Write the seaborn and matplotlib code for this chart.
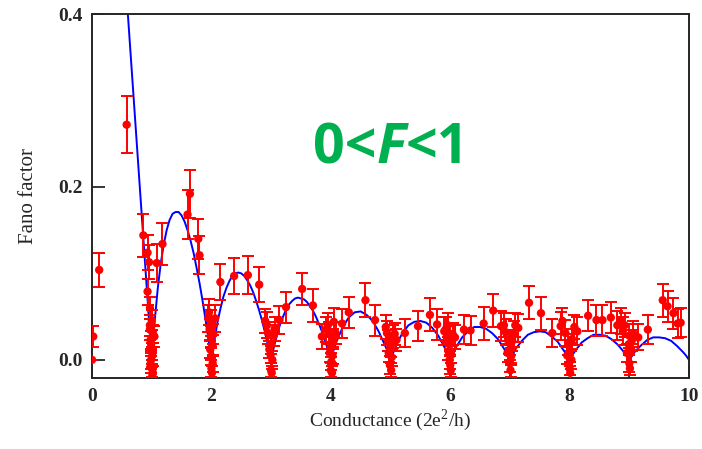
import matplotlib
matplotlib.use("Agg")
import matplotlib.pyplot as plt
import seaborn as sns
from matplotlib.offsetbox import TextArea, HPacker, AnnotationBbox

# measured Fano factor (conductance in 2e^2/h, F, error)
cond = [0.00, 0.02, 0.12, 0.58, 0.86, 0.93, 0.955, 1.085, 1.18, 0.93, 0.97, 1.00, 1.045,
        0.98, 1.00, 0.99, 1.00, 1.01, 0.97, 1.60, 1.64, 1.78, 1.80, 1.95, 2.00, 1.99, 2.02,
        2.00, 2.00, 2.06, 2.15, 2.38, 2.61, 2.80, 2.93, 2.95, 3.00, 2.99, 3.00, 3.14, 3.25,
        3.52, 3.70, 3.85, 3.97, 4.08, 4.00, 4.01, 4.00, 4.05, 4.19, 4.30, 4.58, 4.74, 4.94,
        5.04, 5.00, 4.99, 5.10, 5.24, 5.46, 5.66, 5.78, 5.90, 5.99, 6.00, 5.99, 6.00, 6.08,
        6.23, 6.34, 6.56, 6.72, 6.85, 6.93, 6.98, 7.00, 7.00, 7.06, 7.14, 7.32, 7.52, 7.71,
        7.85, 7.93, 7.98, 8.00, 8.00, 8.13, 8.31, 8.45, 8.55, 8.69, 8.80, 8.89, 9.00, 8.99,
        9.00, 9.07, 9.15, 9.31, 9.56, 9.64, 9.74, 9.81, 9.86]
fano = [0.000, 0.027, 0.104, 0.272, 0.144, 0.124, 0.113, 0.112, 0.134, 0.079, 0.060, 0.046, 0.027,
        0.023, 0.010, 0.000, -0.010, -0.018, 0.035, 0.168, 0.192, 0.140, 0.121, 0.048, 0.043, 0.027, 0.017,
        0.004, -0.010, 0.048, 0.090, 0.097, 0.098, 0.087, 0.040, 0.031, 0.019, 0.006, -0.012, 0.046, 0.061,
        0.082, 0.063, 0.027, 0.031, 0.031, 0.015, -0.002, -0.012, 0.044, 0.042, 0.055, 0.069, 0.046, 0.031,
        0.027, 0.015, -0.006, 0.023, 0.031, 0.039, 0.052, 0.041, 0.033, 0.026, 0.018, 0.000, -0.006, 0.026,
        0.035, 0.034, 0.042, 0.057, 0.039, 0.032, 0.020, 0.012, -0.004, 0.030, 0.037, 0.066, 0.054, 0.031,
        0.039, 0.031, 0.018, 0.008, -0.010, 0.033, 0.051, 0.046, 0.046, 0.049, 0.040, 0.033, 0.028, 0.018,
        -0.004, 0.030, 0.026, 0.035, 0.069, 0.062, 0.054, 0.042, 0.043]
err = [0.000, 0.012, 0.020, 0.033, 0.025, 0.020, 0.020, 0.022, 0.024, 0.015, 0.013, 0.012, 0.012,
       0.010, 0.010, 0.010, 0.010, 0.010, 0.012, 0.028, 0.028, 0.023, 0.022, 0.016, 0.015, 0.012, 0.012,
       0.010, 0.010, 0.016, 0.021, 0.021, 0.022, 0.020, 0.015, 0.013, 0.012, 0.010, 0.008, 0.016, 0.018,
       0.019, 0.019, 0.015, 0.013, 0.013, 0.012, 0.010, 0.008, 0.016, 0.017, 0.018, 0.020, 0.018, 0.014,
       0.013, 0.012, 0.010, 0.013, 0.016, 0.017, 0.019, 0.018, 0.016, 0.013, 0.012, 0.010, 0.010, 0.014,
       0.017, 0.017, 0.019, 0.019, 0.017, 0.015, 0.013, 0.012, 0.010, 0.015, 0.016, 0.019, 0.019, 0.016,
       0.016, 0.015, 0.012, 0.011, 0.008, 0.016, 0.018, 0.018, 0.018, 0.018, 0.017, 0.016, 0.014, 0.012,
       0.010, 0.015, 0.015, 0.017, 0.019, 0.018, 0.018, 0.017, 0.017]

# extra points packed into the blobs around each integer plateau
blob_g = [0.97, 1.02, 0.99, 1.01, 0.98, 1.02,
          1.97, 2.03, 1.98, 2.02, 2.01, 1.96,
          2.90, 3.04, 3.06, 2.97, 3.02, 3.01,
          3.92, 4.04, 3.98, 4.03, 3.95, 4.02,
          4.92, 5.07, 4.97, 5.02, 5.01, 4.96,
          5.93, 6.04, 5.97, 6.02, 6.01, 5.96,
          6.90, 7.04, 6.96, 7.02, 7.01, 7.09,
          7.88, 8.04, 7.96, 8.03, 8.01, 8.08,
          8.92, 9.04, 8.96, 9.02, 9.01, 8.86]
blob_f = [0.040, 0.030, 0.018, 0.005, -0.005, -0.015,
          0.035, 0.030, 0.012, -0.004, -0.015, 0.055,
          0.045, 0.028, 0.036, 0.012, 0.000, -0.015,
          0.035, 0.024, 0.008, 0.005, 0.040, -0.015,
          0.038, 0.030, 0.008, 0.003, -0.012, 0.022,
          0.036, 0.030, 0.010, 0.006, -0.012, 0.040,
          0.040, 0.022, 0.008, 0.004, -0.012, 0.040,
          0.045, 0.024, 0.005, 0.000, -0.015, 0.038,
          0.040, 0.022, 0.008, 0.008, -0.010, 0.045]
blob_e = [0.012, 0.010, 0.010, 0.010, 0.010, 0.008,
          0.012, 0.012, 0.010, 0.010, 0.008, 0.015,
          0.014, 0.012, 0.014, 0.010, 0.010, 0.008,
          0.014, 0.012, 0.010, 0.010, 0.014, 0.008,
          0.014, 0.013, 0.010, 0.010, 0.008, 0.012,
          0.014, 0.013, 0.010, 0.010, 0.008, 0.014,
          0.014, 0.012, 0.010, 0.010, 0.008, 0.014,
          0.015, 0.012, 0.010, 0.010, 0.008, 0.014,
          0.014, 0.012, 0.010, 0.010, 0.008, 0.015]

# theory curve: first branch below G=1, then one arch per plateau
first_g = [0.55, 0.60, 0.70, 0.80, 0.90, 0.95]
first_f = [0.45, 0.40, 0.30, 0.20, 0.10, 0.05]
fine_frac = [0.0, 0.05, 0.1, 0.15, 0.2, 0.25, 0.3, 0.35, 0.4, 0.45, 0.5,
             0.55, 0.6, 0.65, 0.7, 0.75, 0.8, 0.85, 0.9, 0.95]
fine_f = [
    [0, .045, .082, .111, .133, .150, .162, .169, .171, .171, .167,
     .160, .150, .138, .124, .107, .089, .069, .047, .024],
    [0, .023, .043, .059, .073, .083, .091, .097, .100, .101, .100,
     .097, .092, .086, .078, .068, .057, .045, .031, .016],
    [0, .016, .029, .041, .050, .058, .064, .068, .071, .072, .071,
     .070, .067, .062, .057, .050, .042, .033, .023, .012],
]
coarse_frac = [0.0, 0.05, 0.1, 0.2, 0.3, 0.4, 0.5, 0.6, 0.7, 0.8, 0.9, 0.95]
coarse_f = [
    [0, .012, .022, .038, .049, .055, .056, .052, .045, .033, .018, .010],
    [0, .009, .018, .031, .040, .044, .045, .043, .037, .028, .015, .008],
    [0, .008, .015, .026, .033, .038, .038, .036, .031, .024, .013, .007],
    [0, .007, .013, .022, .029, .032, .033, .032, .027, .021, .011, .006],
    [0, .006, .011, .020, .025, .029, .029, .028, .024, .018, .010, .005],
    [0, .005, .010, .017, .023, .026, .026, .025, .022, .016, .009, .005],
]

fit_g = list(first_g)
fit_f = list(first_f)
for n, vals in enumerate(fine_f, start=1):
    fit_g += [n + d for d in fine_frac]
    fit_f += vals
for n, vals in enumerate(coarse_f, start=4):
    fit_g += [n + d for d in coarse_frac]
    fit_f += vals
fit_g.append(10.0)
fit_f.append(0.0)

all_g = cond + blob_g
all_f = fano + blob_f
all_e = err + blob_e

sns.set_style("ticks")
plt.rcParams['font.family'] = ['Liberation Serif', 'DejaVu Serif']
plt.rcParams['mathtext.fontset'] = 'custom'
plt.rcParams['mathtext.rm'] = 'Liberation Serif'

fig = plt.figure(figsize=(7.02, 4.49), dpi=100)
ax = fig.add_axes([0.1311, 0.1581, 0.8504, 0.8107])

sns.lineplot(x=fit_g, y=fit_f, sort=False, estimator=None, color='blue', lw=1.4, ax=ax)
ax.errorbar(all_g, all_f, yerr=all_e, fmt='none', ecolor='red', elinewidth=1.4,
            capsize=4.5, capthick=1.4, zorder=3)
sns.scatterplot(x=all_g, y=all_f, color='red', s=36, edgecolor='none', zorder=4, ax=ax)

ax.set_xlim(0, 10)
ax.set_ylim(-0.021, 0.4)
ax.set_xticks([0, 2, 4, 6, 8, 10])
ax.set_xticks(range(1, 10, 2), minor=True)
ax.set_yticks([0.0, 0.2, 0.4])
ax.set_yticklabels(['0.0', '0.2', '0.4'])
ax.tick_params(which='major', direction='in', length=9, width=1.3, labelsize=14, pad=7)
ax.tick_params(which='minor', direction='in', length=5, width=1.3)
for lab in ax.get_xticklabels() + ax.get_yticklabels():
    lab.set_fontweight('bold')
for sp in ax.spines.values():
    sp.set_linewidth(1.4)

ax.set_xlabel(r'Conductance (2e$^{\mathrm{2}}$/h)', fontsize=14, labelpad=2)
ax.set_ylabel('Fano factor', fontsize=15, labelpad=14)

# green annotation with italic F
tprops = dict(color='#00B050', fontsize=40, fontweight='bold', family='Open Sans')
parts = [TextArea('0<', textprops=tprops),
         TextArea('F', textprops=dict(tprops, style='italic')),
         TextArea('<1', textprops=tprops)]
box = HPacker(children=parts, pad=0, sep=0)
ab = AnnotationBbox(box, (3.7, 0.225), xycoords='data', box_alignment=(0, 0.2),
                    frameon=False, pad=0)
ax.add_artist(ab)

fig.savefig('out.png', dpi=100)
